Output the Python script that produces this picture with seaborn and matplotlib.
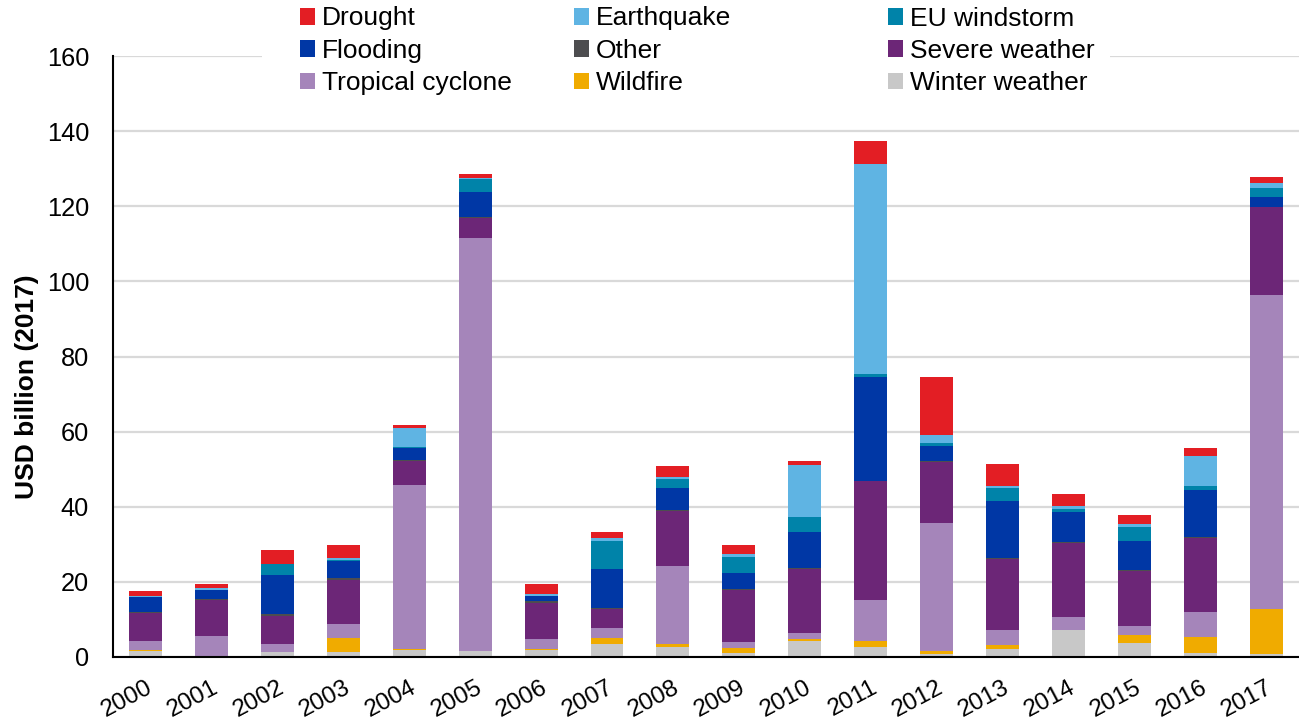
import numpy as np
import pandas as pd
import matplotlib
matplotlib.use("Agg")
import matplotlib.pyplot as plt
import seaborn as sns
from matplotlib.patches import Patch, Rectangle

# ---------------- data (USD billion, 2017 prices) ----------------
years = [str(y) for y in range(2000, 2018)]

winter_weather   = [1.70, 0.36, 1.25, 1.43, 1.96, 1.61, 1.87, 3.38, 2.67, 1.07, 4.36, 2.67, 0.72, 2.23, 7.11, 3.83, 1.16, 0.90]
wildfire         = [0.26, 0.00, 0.10, 3.55, 0.05, 0.05, 0.27, 1.78, 0.71, 1.33, 0.35, 1.60, 0.80, 0.89, 0.18, 1.95, 4.17, 11.98]
tropical_cyclone = [2.30, 5.33, 2.21, 3.90, 43.70, 110.0, 2.57, 2.66, 20.77, 1.69, 1.78, 10.83, 34.16, 4.17, 3.46, 2.48, 6.57, 83.42]
severe_weather   = [7.45, 9.58, 7.45, 11.54, 6.39, 5.24, 9.59, 4.97, 14.82, 13.85, 17.04, 31.68, 16.34, 18.90, 19.70, 14.73, 19.88, 23.52]
other            = [0.18, 0.05, 0.54, 0.53, 0.27, 0.26, 0.53, 0.35, 0.05, 0.05, 0.05, 0.05, 0.05, 0.05, 0.05, 0.05, 0.05, 0.05]
flooding         = [4.08, 2.49, 10.29, 4.62, 3.28, 6.75, 1.42, 10.30, 6.03, 4.34, 9.67, 27.78, 4.16, 15.35, 8.16, 7.90, 12.69, 2.57]
eu_windstorm     = [0.12, 0.05, 2.84, 0.25, 0.27, 3.37, 0.10, 7.45, 2.22, 4.35, 4.08, 0.71, 0.80, 3.37, 0.80, 3.73, 0.89, 2.40]
earthquake       = [0.24, 0.53, 0.05, 0.46, 4.97, 0.36, 0.35, 0.71, 0.54, 0.80, 13.76, 55.91, 2.05, 0.45, 0.71, 0.71, 8.16, 1.41]
drought          = [1.24, 1.07, 3.73, 3.55, 0.89, 1.06, 2.76, 1.60, 3.10, 2.22, 1.15, 6.03, 15.44, 6.03, 3.20, 2.31, 1.96, 1.43]

perils = ["Winter weather", "Wildfire", "Tropical cyclone", "Severe weather", "Other",
          "Flooding", "EU windstorm", "Earthquake", "Drought"]
series = [winter_weather, wildfire, tropical_cyclone, severe_weather, other,
          flooding, eu_windstorm, earthquake, drought]

colors = {
    "Drought": "#e31e24",
    "Earthquake": "#5fb4e3",
    "EU windstorm": "#0083a9",
    "Flooding": "#0037a5",
    "Other": "#4d4d4f",
    "Severe weather": "#6c2677",
    "Tropical cyclone": "#a585ba",
    "Wildfire": "#f0ab00",
    "Winter weather": "#c8c8c8",
}

legend_columns = [["Drought", "Flooding", "Tropical cyclone"],
                  ["Earthquake", "Other", "Wildfire"],
                  ["EU windstorm", "Severe weather", "Winter weather"]]

# ---------------- style ----------------
sns.set_theme(style="white", rc={
    "text.color": "black", "axes.labelcolor": "black",
    "xtick.color": "black", "ytick.color": "black",
})
plt.rcParams["font.family"] = ["Liberation Sans", "DejaVu Sans"]

W, H = 1299, 728
fig = plt.figure(figsize=(W / 100, H / 100), dpi=100)
ax = fig.add_axes([112.7 / W, (H - 657) / H, (W - 112.7) / W, (657 - 56) / H])

df = pd.DataFrame(dict(zip(perils, series)), index=years)
cum = df[perils].cumsum(axis=1)

# stacked bars: draw cumulative totals from the top category downwards
for p in reversed(perils):
    sns.barplot(x=years, y=cum[p].values, color=colors[p], width=0.5,
                saturation=1, linewidth=0, errorbar=None, ax=ax, zorder=2)

ax.set_xlim(-0.5, 17.5)
ax.set_ylim(0, 160)
ax.set_yticks(np.arange(0, 161, 20))
ax.set_axisbelow(True)
ax.yaxis.grid(True, color="#d9d9d9", linewidth=1.6)
ax.xaxis.grid(False)

for s in ["top", "right"]:
    ax.spines[s].set_visible(False)
for s in ["left", "bottom"]:
    ax.spines[s].set_color("black")
    ax.spines[s].set_linewidth(1.5)

ax.tick_params(axis="y", direction="in", length=5, width=1.5, pad=17, labelsize=18.3)
ax.set_xticks(range(len(years)))
ax.set_xticks(np.arange(-0.5, len(years), 1), minor=True)
ax.tick_params(axis="x", which="major", length=0, pad=14)
ax.tick_params(axis="x", which="minor", direction="in", length=5, width=1.5)
ax.set_xticklabels(years, rotation=28, ha="right", rotation_mode="anchor", fontsize=17.5)

ax.set_xlabel("")
ax.set_ylabel("USD billion (2017)", fontsize=19, fontweight="bold")
ax.yaxis.set_label_coords(-0.062, 0.45)

# white area behind the legend (hides the top gridline)
fig.patches.append(Rectangle((262 / W, 1 - 102 / H), (1110 - 262) / W, 102 / H,
                             transform=fig.transFigure, facecolor="white",
                             edgecolor="none", zorder=1))

xs = [300, 574, 888]
for col, xp in zip(legend_columns, xs):
    handles = [Patch(facecolor=colors[n], edgecolor="none") for n in col]
    fig.legend(handles, col, loc="upper left", bbox_to_anchor=(xp / W, 1 - 6.5 / H),
               frameon=False, fontsize=19, handlelength=0.57, handleheight=0.6,
               handletextpad=0.25, labelspacing=0.32, borderpad=0, borderaxespad=0)

fig.savefig("out.png", dpi=100)
